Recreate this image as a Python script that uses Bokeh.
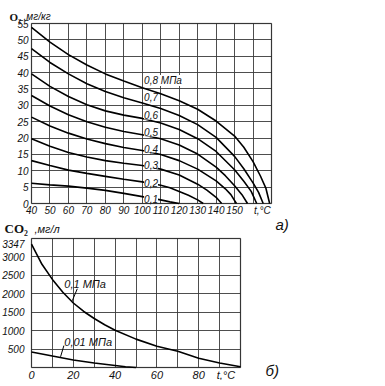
from bokeh.plotting import figure
from bokeh.models import FixedTicker, Label, Range1d, LinearAxis, Grid, BoxAnnotation
from bokeh.embed import file_html
from bokeh.resources import INLINE

FONT = "Liberation Sans"

# ---------------- data: O2 solubility (mg/kg) vs t (°C) ----------------
t_01 = [40, 50, 60, 70, 80, 90, 100, 105, 110, 115, 120]
o2_01 = [6.2, 5.7, 5.3, 4.7, 4.0, 3.1, 2.1, 1.6, 1.1, 0.5, 0]

t_02 = [40, 50, 60, 70, 80, 90, 100, 110, 115, 120, 125, 130, 133]
o2_02 = [13.1, 11.6, 10.2, 9.2, 8.3, 7.4, 6.6, 5.6, 4.8, 3.7, 2.5, 1.1, 0]

t_03 = [40, 50, 60, 70, 80, 90, 100, 110, 120, 130, 135, 140, 143]
o2_03 = [19.8, 17.5, 15.6, 14.2, 13.1, 12.3, 11.6, 10.5, 8.7, 5.9, 4.1, 1.9, 0]

t_04 = [40, 50, 60, 70, 80, 90, 100, 110, 120, 130, 140, 145, 148, 151]
o2_04 = [26.4, 23.7, 21.5, 19.7, 18.3, 17.1, 16.2, 15.0, 13.1, 10.5, 6.9, 4.5, 2.7, 0]

t_05 = [40, 50, 60, 70, 80, 90, 100, 110, 120, 130, 140, 145, 150, 154, 157]
o2_05 = [33.0, 29.8, 27.1, 25.0, 23.3, 22.0, 21.0, 19.8, 17.9, 15.1, 11.1, 8.5, 5.4, 2.7, 0]

t_06 = [40, 50, 60, 70, 80, 90, 100, 110, 120, 130, 140, 150, 155, 159, 162]
o2_06 = [39.6, 35.8, 32.7, 30.2, 28.3, 27.0, 26.0, 24.6, 22.6, 19.8, 15.9, 10.3, 6.8, 3.7, 0]

t_07 = [40, 50, 60, 70, 80, 90, 100, 110, 120, 130, 140, 150, 155, 160, 163, 165.5]
o2_07 = [47.3, 43.1, 39.6, 36.6, 34.2, 32.3, 30.7, 29.0, 26.9, 24.1, 20.2, 14.4, 10.6, 6.3, 3.4, 0]

t_08 = [40, 50, 60, 70, 80, 90, 100, 110, 120, 130, 140, 150, 155, 160, 164, 167, 169]
o2_08 = [53.8, 49.3, 45.5, 42.3, 39.6, 37.4, 35.4, 33.5, 31.4, 28.8, 25.2, 20.6, 17.2, 12.8, 8.4, 4.6, 0]

o2_series = [(t_01, o2_01), (t_02, o2_02), (t_03, o2_03), (t_04, o2_04),
             (t_05, o2_05), (t_06, o2_06), (t_07, o2_07), (t_08, o2_08)]
o2_labels = ["0,1", "0,2", "0,3", "0,4", "0,5", "0,6", "0,7", "0,8 МПа"]
o2_label_t = 101
o2_label_v = [1.5, 6.4, 11.9, 16.8, 21.7, 26.9, 32.4, 37.6]

top_t_range = (40, 170)
top_v_range = (0, 55)
top_x_ticks = [40, 50, 60, 70, 80, 90, 100, 110, 120, 130, 140, 150, 165]
top_x_names = {165: "t,°C"}
top_x_grid = [40, 50, 60, 70, 80, 90, 100, 110, 120, 130, 140, 150, 160, 170]
top_y_ticks = [0, 5, 10, 15, 20, 25, 30, 35, 40, 45, 50, 55]

# ---------------- data: CO2 solubility (mg/l) vs t (°C) ----------------
t_co2_01 = [0, 5, 10, 15, 20, 25, 30, 35, 40, 50, 60, 70, 80, 90, 100]
co2_01 = [3347, 2800, 2390, 2040, 1750, 1520, 1330, 1160, 1010, 770, 575, 440, 250, 120, 20]

t_co2_001 = [0, 10, 20, 30, 40, 45, 50]
co2_001 = [420, 310, 205, 120, 55, 22, 0]

co2_labels = ["0,1 МПа", "0,01 МПа"]
co2_label_t = [15.7, 15.7]
co2_label_v = [2270, 703]
leader_x0 = [21.9, 15.5]
leader_y0 = [2135, 595]
leader_x1 = [19.5, 13.9]
leader_y1 = [1810, 290]

bot_t_range = (0, 100)
bot_v_range = (0, 3500)
bot_x_ticks = [0, 20, 40, 60, 80, 93]
bot_x_names = {93: "t,°C"}
bot_x_grid = [0, 10, 20, 30, 40, 50, 60, 70, 80, 90, 100]
bot_y_ticks = [500, 1000, 1500, 2000, 2500, 3000, 3347]
bot_y_grid = [0, 500, 1000, 1500, 2000, 2500, 3000, 3500]

# ---------------- layout geometry (canvas pixels) ----------------
W, H = 370, 380
TOP_BOX = (31, 271, 23, 203)   # left, right, top, bottom
BOT_BOX = (31, 240, 238, 367)


def x_range_for(d, box):
    s = (d[1] - d[0]) / (box[1] - box[0])
    start = d[0] - box[0] * s
    return Range1d(start, start + W * s)


def y_range_for(d, box):
    s = (d[1] - d[0]) / (box[3] - box[2])
    return Range1d(d[0] - (H - box[3]) * s, d[1] + box[2] * s)


p = figure(width=W, height=H, output_backend="svg", toolbar_location=None,
           x_range=x_range_for(top_t_range, TOP_BOX), y_range=y_range_for(top_v_range, TOP_BOX),
           x_axis_type=None, y_axis_type=None, min_border=0)
p.extra_x_ranges = {"bx": x_range_for(bot_t_range, BOT_BOX)}
p.extra_y_ranges = {"by": y_range_for(bot_v_range, BOT_BOX)}
p.outline_line_color = None
p.background_fill_color = "white"
p.border_fill_color = "white"

TOP = dict(x_range_name="default", y_range_name="default")
BOT = dict(x_range_name="bx", y_range_name="by")

has_cross = "cross_bounds" in Grid.properties()


def grids(names, xg, yg, tr, vr):
    if has_cross:
        p.add_layout(Grid(dimension=0, ticker=FixedTicker(ticks=xg), bounds=tr, cross_bounds=vr,
                          grid_line_color="#3a3a3a", grid_line_width=0.9, **names))
        p.add_layout(Grid(dimension=1, ticker=FixedTicker(ticks=yg), bounds=vr, cross_bounds=tr,
                          grid_line_color="#3a3a3a", grid_line_width=0.9, **names))
    else:
        p.segment(xg, [vr[0]] * len(xg), xg, [vr[1]] * len(xg), line_color="#3a3a3a",
                  line_width=0.9, **names)
        p.segment([tr[0]] * len(yg), yg, [tr[1]] * len(yg), yg, line_color="#3a3a3a",
                  line_width=0.9, **names)
    p.add_layout(BoxAnnotation(left=tr[0], right=tr[1], bottom=vr[0], top=vr[1],
                               fill_color=None, fill_alpha=0, line_color="black",
                               line_width=1.5, **names))


def axis(side, names, ticks, loc, fsize, standoff, overrides=None):
    ax = LinearAxis(ticker=FixedTicker(ticks=ticks), fixed_location=loc,
                    axis_line_color=None, major_tick_line_color=None, minor_tick_line_color=None,
                    major_tick_out=0, major_tick_in=0, minor_tick_out=0, minor_tick_in=0,
                    major_label_text_font=FONT, major_label_text_font_style="italic",
                    major_label_text_font_size=fsize, major_label_text_color="#111111",
                    major_label_standoff=standoff, **names)
    if overrides:
        ax.major_label_overrides = overrides
    p.add_layout(ax, side)


def txt(names, x, y, text, size="10px", style_="italic", font=FONT, align="left", bg=None):
    lab = Label(x=x, y=y, text=text, text_font=font, text_font_size=size,
                text_font_style=style_, text_align=align, text_baseline="middle",
                text_color="#111111", **names)
    if bg:
        lab.background_fill_color = bg
    p.add_layout(lab)


# ---------------- top chart ----------------
grids(TOP, top_x_grid, top_y_ticks, top_t_range, top_v_range)
axis("below", TOP, top_x_ticks, top_v_range[0], "10px", 1, top_x_names)
axis("left", TOP, top_y_ticks, top_t_range[0], "10px", 3)

for tt, vv in o2_series:
    p.line(tt, vv, line_color="black", line_width=1.6)

for lab, v in zip(o2_labels, o2_label_v):
    txt(TOP, o2_label_t, v, lab, bg="white")

txt(TOP, 28.1, 57.1, "O₂", size="11px", style_="bold", font="Liberation Serif")
txt(TOP, 35.7, 57.1, ",мг/кг")

# ---------------- bottom chart ----------------
grids(BOT, bot_x_grid, bot_y_grid, bot_t_range, bot_v_range)
axis("below", BOT, bot_x_ticks, bot_v_range[0], "11px", 1, bot_x_names)
axis("left", BOT, bot_y_ticks, bot_t_range[0], "10px", 7)

p.line(t_co2_01, co2_01, line_color="black", line_width=1.6, **BOT)
p.line(t_co2_001, co2_001, line_color="black", line_width=1.6, **BOT)
p.segment(leader_x0, leader_y0, leader_x1, leader_y1, line_color="black", line_width=1, **BOT)

for lab, tx, v in zip(co2_labels, co2_label_t, co2_label_v):
    txt(BOT, tx, v, lab, size="11px")

txt(BOT, -12.9, 3771, "CO₂", size="13px", style_="bold", font="Liberation Serif")
txt(BOT, 1.4, 3771, ",мг/л", size="11px")
txt(BOT, 116.7, 3880, "а)", size="15px")
txt(BOT, 112.0, -81, "б)", size="15px")

open("out.html", "w").write(file_html(p, INLINE))
